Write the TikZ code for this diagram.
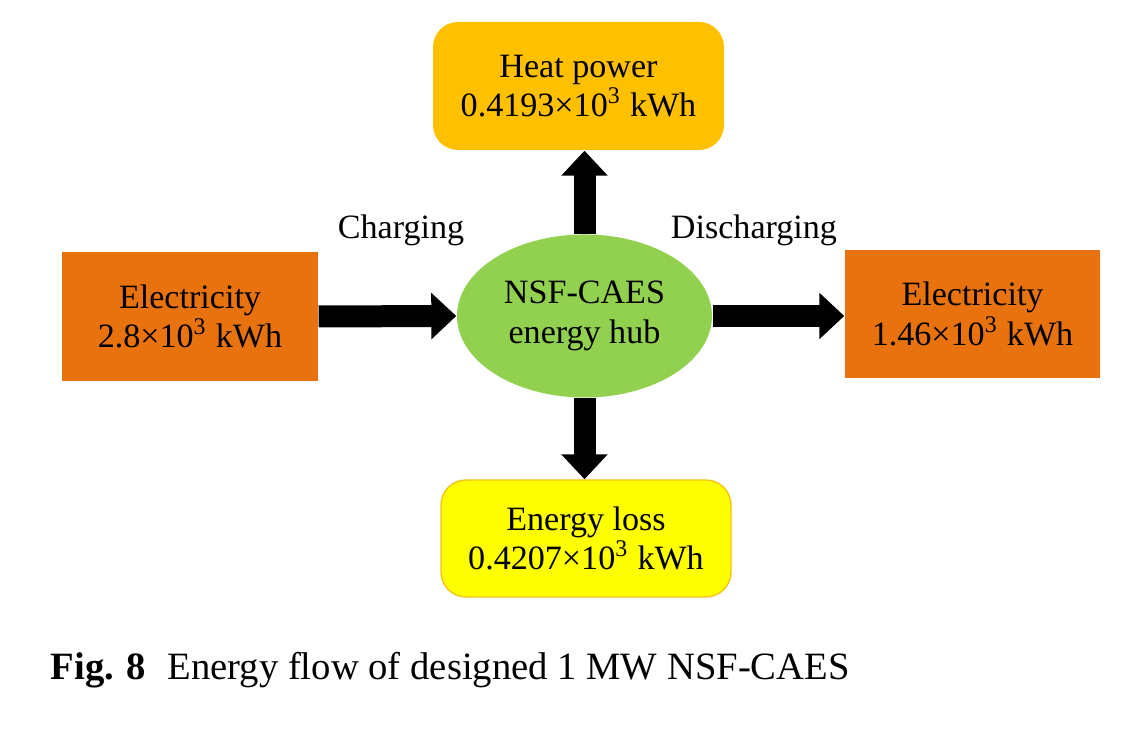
\documentclass[tikz,border=0pt]{standalone}
\usepackage{fontspec}
\setmainfont{Liberation Serif}
\usepackage{xcolor}
\usetikzlibrary{shapes,arrows,positioning,calc,arrows.meta}
\definecolor{elecorange}{HTML}{E8730E}
\definecolor{heatgold}{HTML}{FFC000}
\definecolor{lossyellow}{HTML}{FFFF00}
\definecolor{lossedge}{HTML}{F2C31A}
\definecolor{hubgreen}{HTML}{92D050}

\begin{document}
\begin{tikzpicture}[
    flowbox/.style={minimum width=2.56cm, minimum height=1.29cm, align=center, inner sep=0pt},
    flowarrow/.style={line width=0.22cm, -{Triangle[length=0.25cm,width=0.45cm]}},
    font=\fontsize{9.7}{11.2}\selectfont
]
    \useasboundingbox (0,0) rectangle (11.28,7.40);

    \node[ellipse, fill=hubgreen, minimum width=2.55cm, minimum height=1.63cm, inner sep=0pt, align=center] (hub) at (5.845,4.24) {NSF-CAES\\energy hub};
    \node[flowbox, fill=elecorange] (elecin) at (1.90,4.235) {Electricity\\2.8\texttimes10\textsuperscript{3} kWh};
    \node[flowbox, fill=elecorange, minimum width=2.55cm, minimum height=1.28cm] (elecout) at (9.725,4.26) {Electricity\\1.46\texttimes10\textsuperscript{3} kWh};
    \node[flowbox, fill=heatgold, rounded corners=0.25cm, minimum width=2.91cm, minimum height=1.28cm] (heat) at (5.785,6.54) {Heat power\\0.4193\texttimes10\textsuperscript{3} kWh};
    \node[flowbox, fill=lossyellow, draw=lossedge, rounded corners=0.25cm, minimum width=2.90cm, minimum height=1.17cm] (loss) at (5.86,2.015) {Energy loss\\0.4207\texttimes10\textsuperscript{3} kWh};

    \draw[flowarrow] (elecin.east) -- (hub.west);
    \draw[flowarrow] (hub.east) -- (hub.east -| elecout.west);
    \draw[flowarrow] (hub.north) -- (hub.north |- heat.south);
    \draw[flowarrow] (hub.south) -- (hub.south |- loss.north);

    \node (chg) at (4.01,5.10) {Charging};
    \node (dischg) at (7.54,5.10) {Discharging};

    \node[anchor=base west, inner sep=0pt, font=\fontsize{11}{13}\selectfont] (cap) at (0.50,0.60) {\textbf{Fig. 8}\hspace{0.55em}Energy flow of designed 1 MW NSF-CAES};
\end{tikzpicture}
\end{document}
